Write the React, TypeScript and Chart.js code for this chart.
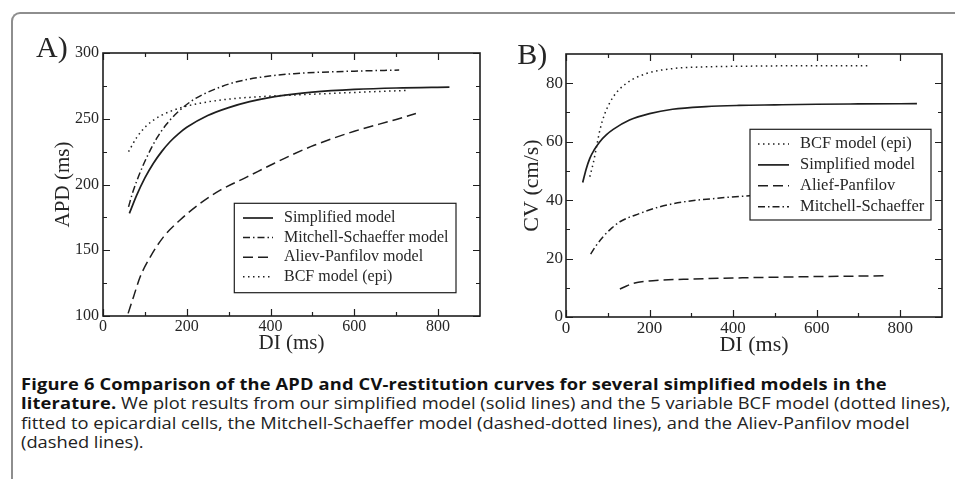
import React, { useEffect, useLayoutEffect, useRef, useState } from "react";
import { Chart, registerables } from "chart.js";

Chart.register(...registerables);

// ---------- Panel A: APD restitution (DI ms -> APD ms) ----------
const apdSimplifiedDI = [63, 80, 100, 120, 140, 160, 180, 200, 250, 300, 350, 400, 450, 500, 600, 700, 827];
const apdSimplified = [178, 191.5, 205, 216, 225, 232.5, 238.5, 243.5, 252.5, 258.5, 263, 266.3, 268.6, 270.3, 272.3, 273.4, 274];

const apdMitchellDI = [61, 70, 81, 95, 108, 128, 152, 180, 216, 256, 312, 375, 456, 512, 600, 707];
const apdMitchell = [183, 193, 203, 214, 223, 235, 246, 255.5, 264.5, 271, 277.5, 281.5, 284.3, 285.3, 286.2, 287];

const apdAlievDI = [60, 73, 89, 113, 144, 184, 232, 280, 344, 408, 452, 504, 600, 700, 747];
const apdAliev = [102, 114.7, 130, 145, 160, 173, 185.6, 195.7, 205.8, 216, 222.7, 229.8, 240.5, 249.5, 254];

const apdBcfDI = [61, 81, 105, 136, 180, 232, 296, 376, 496, 600, 729];
const apdBcf = [225, 236, 245, 252, 257.8, 261.8, 264.8, 266.8, 268.6, 270, 271.6];

const apdXTicks = [0, 200, 400, 600, 800];
const apdXMinor = [100, 300, 500, 700];
const apdYTicks = [100, 150, 200, 250, 300];
const apdYMinor = [125, 175, 225, 275];

// ---------- Panel B: CV restitution (DI ms -> CV cm/s) ----------
const cvBcfDI = [57, 65, 73, 81, 93, 113, 144, 192, 255, 335, 414, 600, 725];
const cvBcf = [48, 52.5, 58.2, 63.9, 69.6, 75.3, 79.9, 83.3, 85, 85.6, 85.8, 86, 86];

const cvSimplifiedDI = [40, 48, 57, 68, 81, 97, 113, 152, 200, 255, 335, 414, 500, 600, 700, 840];
const cvSimplified = [46, 50.5, 54.3, 57.3, 60, 62.4, 64.2, 67.4, 69.6, 71.1, 72, 72.4, 72.6, 72.8, 72.9, 73];

const cvAlievDI = [129, 145, 160, 208, 303, 422, 581, 765];
const cvAliev = [9.6, 10.6, 11.5, 12.4, 13, 13.4, 13.8, 14.1];

const cvMitchellDI = [59, 70, 89, 110, 129, 176, 224, 287, 359, 430, 550, 650, 760];
const cvMitchell = [21.5, 24, 27.5, 30.5, 32.6, 35.4, 37.7, 39.5, 40.6, 41.4, 42, 42.3, 42.5];

const cvXTicks = [0, 200, 400, 600, 800];
const cvXMinor = [100, 300, 500, 700];
const cvYTicks = [0, 20, 40, 60, 80];
const cvYMinor = [10, 30, 50, 70];

const SERIF = '"Liberation Serif", "DejaVu Serif", "Times New Roman", serif';
const INK = "#1e1e1e";
const TEXT = "#262626";

const SOLID: number[] = [];
const DASHDOT = [7, 3, 1.5, 3];
const DASHED = [10, 5];
const DOTTED = [1.5, 3.5];

const framePlugin = {
  id: "frameTicks",
  afterDraw(chart: any, _a: any, o: any) {
    const { ctx, chartArea: a, scales } = chart;
    const sx = scales.x;
    const sy = scales.y;
    ctx.save();
    ctx.setLineDash([]);
    ctx.strokeStyle = INK;
    ctx.lineWidth = 1.2;
    ctx.beginPath();
    const tx = (vals: number[], len: number) =>
      vals.forEach((v) => {
        const p = Math.round(sx.getPixelForValue(v)) + 0.5;
        ctx.moveTo(p, a.bottom);
        ctx.lineTo(p, a.bottom - len);
        ctx.moveTo(p, a.top);
        ctx.lineTo(p, a.top + len);
      });
    const ty = (vals: number[], len: number) =>
      vals.forEach((v) => {
        const p = Math.round(sy.getPixelForValue(v)) + 0.5;
        ctx.moveTo(a.left, p);
        ctx.lineTo(a.left + len, p);
        ctx.moveTo(a.right, p);
        ctx.lineTo(a.right - len, p);
      });
    tx(o.majorX, 7);
    tx(o.minorX, 4);
    ty(o.majorY, 7);
    ty(o.minorY, 4);
    ctx.stroke();
    ctx.lineWidth = 1.6;
    ctx.strokeRect(a.left, a.top, a.right - a.left, a.bottom - a.top);
    ctx.restore();
  },
};

const legendPlugin = {
  id: "boxLegend",
  afterDraw(chart: any, _a: any, o: any) {
    const { ctx, chartArea: a } = chart;
    const bx = a.left + o.x;
    const by = a.top + o.y;
    ctx.save();
    ctx.fillStyle = "#ffffff";
    ctx.fillRect(bx, by, o.w, o.h);
    ctx.setLineDash([]);
    ctx.strokeStyle = INK;
    ctx.lineWidth = 1.2;
    ctx.strokeRect(bx, by, o.w, o.h);
    ctx.font = `${o.fontSize}px ${SERIF}`;
    ctx.textBaseline = "middle";
    ctx.textAlign = "left";
    chart.data.datasets.forEach((ds: any, i: number) => {
      const y = by + o.row0 + i * o.step;
      ctx.beginPath();
      ctx.setLineDash(ds.borderDash || []);
      ctx.strokeStyle = ds.borderColor;
      ctx.lineWidth = ds.borderWidth;
      ctx.moveTo(bx + o.s0, y);
      ctx.lineTo(bx + o.s1, y);
      ctx.stroke();
      ctx.fillStyle = TEXT;
      ctx.fillText(ds.label, bx + o.tx, y);
    });
    ctx.restore();
  },
};

const labelPlugin = {
  id: "panelLabel",
  afterDraw(chart: any, _a: any, o: any) {
    const { ctx, chartArea: a } = chart;
    ctx.save();
    ctx.font = `${o.size}px ${SERIF}`;
    ctx.fillStyle = TEXT;
    ctx.textBaseline = "alphabetic";
    ctx.textAlign = "left";
    ctx.fillText(o.text, a.left + o.x, a.top + o.y);
    ctx.restore();
  },
};

type Series = { label: string; xs: number[]; ys: number[]; dash: number[]; width: number };

function buildConfig(p: any) {
  return {
    type: "line",
    data: {
      datasets: p.series.map((s: Series) => ({
        label: s.label,
        data: s.xs.map((x, i) => ({ x, y: s.ys[i] })),
        borderColor: INK,
        borderWidth: s.width,
        borderDash: s.dash,
        pointRadius: 0,
        fill: false,
        cubicInterpolationMode: "monotone",
      })),
    },
    options: {
      responsive: false,
      animation: false,
      devicePixelRatio: 1,
      layout: { padding: { top: p.padTop, right: p.padRight, left: 0, bottom: 0 } },
      plugins: {
        legend: { display: false },
        tooltip: { enabled: false },
        frameTicks: { majorX: p.xTicks, minorX: p.xMinor, majorY: p.yTicks, minorY: p.yMinor },
        boxLegend: p.legend,
        panelLabel: p.panelLabel,
      },
      scales: {
        x: {
          type: "linear",
          min: 0,
          max: 900,
          grid: { display: false, drawTicks: false },
          border: { display: false },
          ticks: { color: TEXT, font: { family: SERIF, size: p.tickSize }, padding: p.xTickPad },
          afterBuildTicks: (s: any) => {
            s.ticks = p.xTicks.map((v: number) => ({ value: v }));
          },
          afterFit: (s: any) => {
            s.height = p.xAxisH;
          },
          title: {
            display: true,
            text: "DI (ms)",
            color: TEXT,
            font: { family: SERIF, size: p.titleSize, lineHeight: 1 },
            padding: { top: 0, bottom: p.xTitlePad },
          },
        },
        y: {
          type: "linear",
          min: p.yMin,
          max: p.yMax,
          grid: { display: false, drawTicks: false },
          border: { display: false },
          ticks: { color: TEXT, font: { family: SERIF, size: p.tickSize }, padding: p.yTickPad },
          afterBuildTicks: (s: any) => {
            s.ticks = p.yTicks.map((v: number) => ({ value: v }));
          },
          afterFit: (s: any) => {
            s.width = p.yAxisW;
          },
          title: {
            display: true,
            text: p.yTitle,
            color: TEXT,
            font: { family: SERIF, size: p.titleSize, lineHeight: 1 },
            padding: { top: p.yTitlePad, bottom: 0 },
          },
        },
      },
    },
    plugins: [framePlugin, legendPlugin, labelPlugin],
  };
}

const configA = () =>
  buildConfig({
    series: [
      { label: "Simplified model", xs: apdSimplifiedDI, ys: apdSimplified, dash: SOLID, width: 1.7 },
      { label: "Mitchell-Schaeffer model", xs: apdMitchellDI, ys: apdMitchell, dash: DASHDOT, width: 1.5 },
      { label: "Aliev-Panfilov model", xs: apdAlievDI, ys: apdAliev, dash: DASHED, width: 1.5 },
      { label: "BCF model (epi)", xs: apdBcfDI, ys: apdBcf, dash: DOTTED, width: 1.5 },
    ],
    xTicks: apdXTicks,
    xMinor: apdXMinor,
    yTicks: apdYTicks,
    yMinor: apdYMinor,
    yMin: 100,
    yMax: 300,
    yTitle: "APD (ms)",
    padTop: 23,
    padRight: 10,
    yAxisW: 83,
    xAxisH: 44,
    tickSize: 16,
    titleSize: 21,
    xTickPad: 1,
    yTickPad: 4,
    xTitlePad: 6.5,
    yTitlePad: 32.5,
    legend: { x: 131.3, y: 150.3, w: 221.7, h: 89.4, row0: 14.7, step: 19.6, s0: 8.7, s1: 38.7, tx: 49.7, fontSize: 16 },
    panelLabel: { text: "A)", x: -67, y: 4.3, size: 30 },
  });

const configB = () =>
  buildConfig({
    series: [
      { label: "BCF model (epi)", xs: cvBcfDI, ys: cvBcf, dash: DOTTED, width: 1.5 },
      { label: "Simplified model", xs: cvSimplifiedDI, ys: cvSimplified, dash: SOLID, width: 1.7 },
      { label: "Alief-Panfilov", xs: cvAlievDI, ys: cvAliev, dash: DASHED, width: 1.5 },
      { label: "Mitchell-Schaeffer", xs: cvMitchellDI, ys: cvMitchell, dash: DASHDOT, width: 1.5 },
    ],
    xTicks: cvXTicks,
    xMinor: cvXMinor,
    yTicks: cvYTicks,
    yMinor: cvYMinor,
    yMin: 0,
    yMax: 90,
    yTitle: "CV (cm/s)",
    padTop: 24,
    padRight: 13,
    yAxisW: 76,
    xAxisH: 43,
    tickSize: 17,
    titleSize: 22,
    xTickPad: 1,
    yTickPad: 3,
    xTitlePad: 4,
    yTitlePad: 31,
    legend: { x: 184, y: 75.3, w: 181, h: 90.7, row0: 14.7, step: 20.9, s0: 8, s1: 39, tx: 50, fontSize: 16.5 },
    panelLabel: { text: "B)", x: -48.7, y: 10, size: 30 },
  });

function Panel({ make, left, top, width, height }: any) {
  const ref = useRef<HTMLCanvasElement>(null);
  useEffect(() => {
    const chart = new Chart(ref.current as HTMLCanvasElement, make() as any);
    return () => chart.destroy();
  }, []);
  return (
    <canvas
      ref={ref}
      width={width}
      height={height}
      style={{ position: "absolute", left, top, width, height }}
    />
  );
}

const CAPTION_FONT = '"Open Sans", "Noto Sans", "DejaVu Sans", sans-serif';

export default function App() {
  const line2 = useRef<HTMLSpanElement>(null);
  const [k, setK] = useState(1);
  useLayoutEffect(() => {
    if (line2.current) {
      const w = line2.current.offsetWidth;
      if (w > 0) setK(929 / w);
    }
  }, []);
  const boldStyle = { color: "#111", letterSpacing: "0.14px" };
  return (
    <div
      style={{
        position: "absolute",
        left: 0,
        top: 0,
        width: 955,
        height: 479,
        overflow: "hidden",
        background: "#ffffff",
      }}
    >
      <div
        style={{
          position: "absolute",
          left: 11,
          top: 12,
          width: 1000,
          height: 600,
          borderTop: "2px solid #8e8e8e",
          borderLeft: "2px solid #8e8e8e",
          borderTopLeftRadius: 9,
        }}
      />
      <Panel make={configA} left={20} top={30} width={470} height={330} />
      <Panel make={configB} left={490} top={30} width={465} height={330} />
      <div
        style={{
          position: "absolute",
          left: 21,
          top: 375,
          fontFamily: CAPTION_FONT,
          fontSize: 16,
          lineHeight: "19.4px",
          color: "#222",
          whiteSpace: "nowrap",
          transform: `scaleX(${k})`,
          transformOrigin: "left top",
        }}
      >
        <div>
          <b style={boldStyle}>
            Figure 6 Comparison of the APD and CV-restitution curves for several simplified models in the
          </b>
        </div>
        <div>
          <span ref={line2} style={{ display: "inline-block" }}>
            <b style={boldStyle}>literature.</b> We plot results from our simplified model (solid lines) and
            the 5 variable BCF model (dotted lines),
          </span>
        </div>
        <div>
          fitted to epicardial cells, the Mitchell-Schaeffer model (dashed-dotted lines), and the Aliev-Panfilov model
        </div>
        <div>(dashed lines).</div>
      </div>
    </div>
  );
}
